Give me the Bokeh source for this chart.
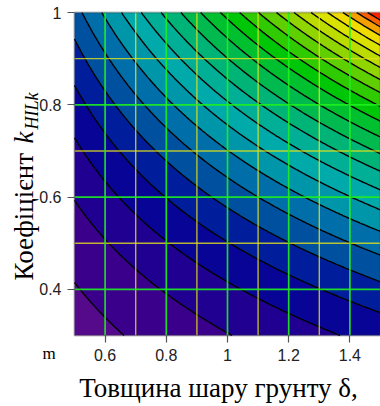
import numpy as np
from bokeh.plotting import figure
from bokeh.models import FixedTicker, NumeralTickFormatter, Label, Range1d, BoxAnnotation
from bokeh.embed import file_html
from bokeh.resources import INLINE

# ---- data ----
thickness = [0.5, 0.6, 0.7, 0.8, 0.9, 1.0, 1.1, 1.2, 1.3, 1.4, 1.5]      # x (δ, m)
coef = [0.3, 0.4, 0.5, 0.6, 0.7, 0.8, 0.9, 1.0]                          # y (k_HILk)
z_table = [
    [0.0820, 0.1024, 0.1228, 0.1432, 0.1636, 0.1840, 0.2044, 0.2248, 0.2452, 0.2656, 0.2860],
    [0.1101, 0.1375, 0.1649, 0.1923, 0.2197, 0.2471, 0.2745, 0.3019, 0.3293, 0.3567, 0.3841],
    [0.1463, 0.1827, 0.2191, 0.2555, 0.2919, 0.3283, 0.3647, 0.4011, 0.4375, 0.4739, 0.5103],
    [0.1905, 0.2379, 0.2853, 0.3327, 0.3801, 0.4275, 0.4749, 0.5223, 0.5697, 0.6171, 0.6645],
    [0.2428, 0.3032, 0.3636, 0.4240, 0.4844, 0.5448, 0.6052, 0.6656, 0.7260, 0.7864, 0.8468],
    [0.3031, 0.3785, 0.4539, 0.5293, 0.6047, 0.6801, 0.7555, 0.8309, 0.9063, 0.9817, 1.0571],
    [0.3714, 0.4638, 0.5562, 0.6486, 0.7410, 0.8334, 0.9258, 1.0182, 1.1106, 1.2030, 1.2954],
    [0.4478, 0.5592, 0.6706, 0.7820, 0.8934, 1.0048, 1.1162, 1.2276, 1.3390, 1.4504, 1.5618],
]
levels = [0.115, 0.187, 0.259, 0.331, 0.403, 0.475, 0.547, 0.619, 0.691, 0.763, 0.835,
          0.907, 0.979, 1.049, 1.117, 1.183, 1.247, 1.309, 1.369, 1.425, 1.475, 1.515]
x_lim = (0.5, 1.5)
y_lim = (0.3, 1.0)
x_ticks = [0.6, 0.8, 1.0, 1.2, 1.4]
x_minor = [0.7, 0.9, 1.1, 1.3]
y_ticks = [0.4, 0.6, 0.8, 1.0]
y_grid = [0.4, 0.6, 0.8]
y_minor = [0.5, 0.7, 0.9]

palette = ["#550a8c", "#3a008c", "#200090", "#080496", "#001e9c", "#0050a0",
           "#006ea8", "#0096aa", "#00aaaa", "#00af96", "#00b478", "#00ba50",
           "#00c030", "#00c608", "#30ca00", "#60cf00", "#90d400", "#bcdc00",
           "#dce200", "#f0dc00", "#f3a000", "#f86000", "#ff2000"]

# ---- smooth resampling of the table for drawing ----
Z = np.array(z_table)
xf = np.linspace(thickness[0], thickness[-1], 241)
yf = np.linspace(coef[0], coef[-1], 181)
cols = [np.polyval(np.polyfit(coef, Z[:, i], 3), yf) for i in range(len(thickness))]
Zy = np.array(cols).T
Zf = np.array([np.interp(xf, thickness, row) for row in Zy])

# ---- layout: plot area occupies pixels [74, 380] x [12, 335] of a 380x406 canvas ----
W, H = 380, 406
ML, MR, MT, MB = 74, 0, 12, 71
sx = (W - ML - MR) / (x_lim[1] - x_lim[0])
sy = (H - MT - MB) / (y_lim[1] - y_lim[0])
x_range = Range1d(x_lim[0] - ML / sx, x_lim[1] + MR / sx)
y_range = Range1d(y_lim[0] - MB / sy, y_lim[1] + MT / sy)

p = figure(width=W, height=H, x_range=x_range, y_range=y_range,
           output_backend="svg", toolbar_location=None,
           min_border=0, min_border_left=0, min_border_right=0,
           min_border_top=0, min_border_bottom=0)
p.background_fill_color = "white"
p.border_fill_color = "white"
p.outline_line_color = None
p.grid.visible = False

all_levels = [0.0] + levels + [2.5]
p.contour(xf, yf, Zf, all_levels, fill_color=palette, line_color="black", line_width=1.4)

# grid lines above the contours, limited to the plot area
p.segment(x0=x_minor, y0=[y_lim[0]] * len(x_minor), x1=x_minor, y1=[y_lim[1]] * len(x_minor),
          line_color="#e2e21a", line_width=1.4, line_alpha=0.8)
p.segment(x0=[x_lim[0]] * len(y_minor), y0=y_minor, x1=[x_lim[1]] * len(y_minor), y1=y_minor,
          line_color="#e2e21a", line_width=1.4, line_alpha=0.8)
p.segment(x0=x_ticks, y0=[y_lim[0]] * len(x_ticks), x1=x_ticks, y1=[y_lim[1]] * len(x_ticks),
          line_color="#1ef01e", line_width=1.7, line_alpha=0.9)
p.segment(x0=[x_lim[0]] * len(y_grid), y0=y_grid, x1=[x_lim[1]] * len(y_grid), y1=y_grid,
          line_color="#1ef01e", line_width=1.7, line_alpha=0.9)

p.add_layout(BoxAnnotation(left=x_lim[0], right=x_lim[1], bottom=y_lim[0], top=y_lim[1],
                           fill_alpha=0, line_color="#333333", line_width=2, level="overlay"))

# axes fixed on the plot-area edges
p.xaxis.fixed_location = y_lim[0]
p.yaxis.fixed_location = x_lim[0]
p.xaxis.bounds = x_lim
p.yaxis.bounds = y_lim
p.xaxis.ticker = FixedTicker(ticks=x_ticks, minor_ticks=[])
p.yaxis.ticker = FixedTicker(ticks=y_ticks, minor_ticks=[])
p.axis.formatter = NumeralTickFormatter(format="0.[0]")
p.axis.axis_line_color = None
p.axis.major_tick_in = 0
p.axis.major_tick_out = 7
p.axis.minor_tick_out = 0
p.axis.minor_tick_in = 0
p.axis.major_tick_line_color = "#555555"
p.axis.major_tick_line_width = 1.2
p.axis.major_label_text_font = "Liberation Sans"
p.axis.major_label_text_font_size = "16px"
p.axis.major_label_text_color = "#222222"
p.xaxis.major_label_standoff = 6
p.yaxis.major_label_standoff = 6

# texts (screen units: x from left, y from bottom of the canvas)
serif = "Liberation Serif"
p.add_layout(Label(x=218, y=H - 387, x_units="screen", y_units="screen",
                   text="Товщина шару грунту δ,", text_font=serif, text_font_size="27px",
                   text_align="center", text_baseline="alphabetic", text_color="black"))
p.add_layout(Label(x=42, y=H - 353, x_units="screen", y_units="screen",
                   text="m", text_font=serif, text_font_size="17px",
                   text_align="left", text_baseline="alphabetic", text_color="black"))
p.add_layout(Label(x=23, y=H - 280, x_units="screen", y_units="screen", angle=np.pi / 2,
                   text="Коефіцієнт", text_font=serif, text_font_size="27px",
                   text_align="left", text_baseline="alphabetic", text_color="black"))
p.add_layout(Label(x=23, y=H - 143, x_units="screen", y_units="screen", angle=np.pi / 2,
                   text="k", text_font=serif, text_font_style="italic", text_font_size="27px",
                   text_align="left", text_baseline="alphabetic", text_color="black"))
p.add_layout(Label(x=31, y=H - 129, x_units="screen", y_units="screen", angle=np.pi / 2,
                   text="HILk", text_font=serif, text_font_style="italic", text_font_size="18px",
                   text_align="left", text_baseline="alphabetic", text_color="black"))

open("out.html", "w").write(file_html(p, INLINE))
